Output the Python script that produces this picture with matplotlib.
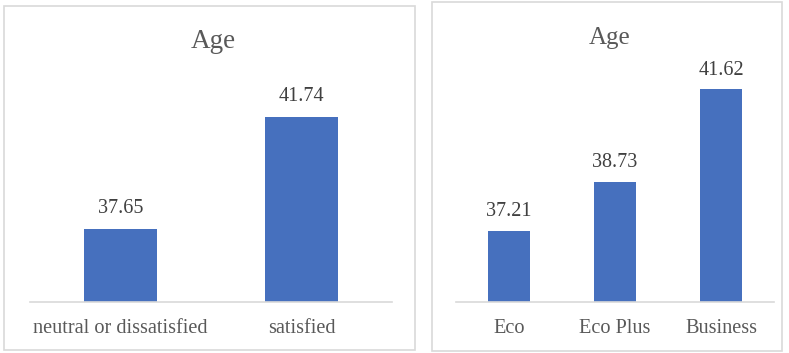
import matplotlib
matplotlib.use("Agg")
import matplotlib.pyplot as plt
from matplotlib.patches import Rectangle

# Data
sat_categories = ["neutral or dissatisfied", "satisfied"]
sat_age = [37.65, 41.74]
class_categories = ["Eco", "Eco Plus", "Business"]
class_age = [37.21, 38.73, 41.62]
title_left = "Age"
title_right = "Age"

W, H = 789, 353
plt.rcParams['font.family'] = ['Liberation Serif', 'DejaVu Serif']
BAR = '#4670BE'
TXT = '#595959'
GRID = '#d9d9d9'

fig = plt.figure(figsize=(W / 100, H / 100), dpi=100)

def px_axes(x0, x1, ybot, ytop):
    return fig.add_axes([x0 / W, (H - ybot) / H, (x1 - x0) / W, (ybot - ytop) / H])

def panel_border(x0, x1, y0, y1):
    fig.patches.append(Rectangle((x0 / W, (H - y1) / H), (x1 - x0) / W, (y1 - y0) / H,
                                 transform=fig.transFigure, fill=False,
                                 edgecolor=GRID, linewidth=1.2))

def style(ax, cats, vals, lab_off, fs_tick, fs_lab):
    x = range(len(cats))
    bars = ax.bar(x, vals, width=0.4, color=BAR, zorder=2)
    ax.set_xlim(-0.5, len(cats) - 0.5)
    for s in ['top', 'right', 'left']:
        ax.spines[s].set_visible(False)
    ax.spines['bottom'].set_color(GRID)
    ax.spines['bottom'].set_linewidth(1.2)
    ax.set_yticks([])
    ax.set_xticks(list(x))
    ax.set_xticklabels(cats, fontsize=fs_tick, color=TXT)
    ax.tick_params(axis='x', length=0, pad=12.5)
    for b, v in zip(bars, vals):
        ax.annotate(f"{v:.2f}", (b.get_x() + b.get_width() / 2, v),
                    xytext=(0, lab_off), textcoords='offset points',
                    ha='center', va='center', fontsize=fs_lab, color='#404040')
    ax.patch.set_alpha(0)

# Left panel
panel_border(4, 415, 6, 350)
axL = px_axes(30, 392, 302, 82)
axL.set_ylim(35, 43)
style(axL, sat_categories, sat_age, 14.5, 14.6, 14.5)
fig.text(213 / W, 1 - 41 / H, title_left, ha='center', va='center', fontsize=19.5, color=TXT)

# Right panel
panel_border(432, 782, 2, 351)
axR = px_axes(456, 774, 302, 77.3)
axR.set_ylim(35, 42)
style(axR, class_categories, class_age, 14, 14.6, 14.5)
fig.text(610 / W, 1 - 38 / H, title_right, ha='center', va='center', fontsize=18, color=TXT)

fig.savefig("out.png", dpi=100)
